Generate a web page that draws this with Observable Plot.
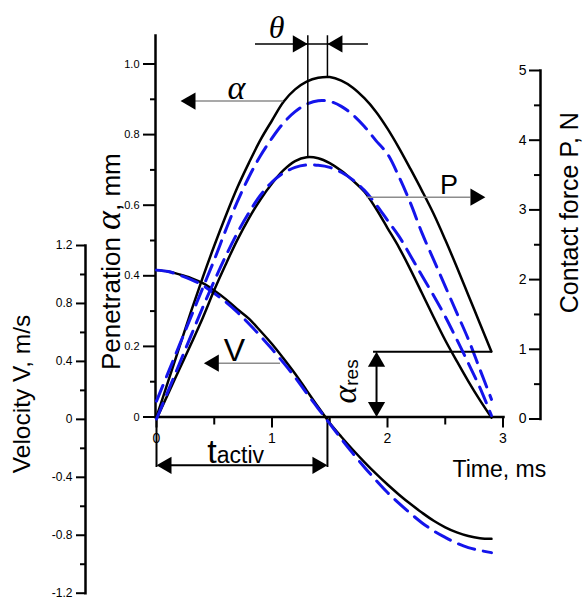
<!DOCTYPE html>
<html><head><meta charset="utf-8">
<script src="https://cdn.jsdelivr.net/npm/d3@7"></script>
<script src="https://cdn.jsdelivr.net/npm/@observablehq/plot@0.6"></script>
<style>
html,body{margin:0;padding:0;background:#fff;}
#chart{position:relative;width:587px;height:597px;}
#chart svg{position:absolute;left:0;top:0;overflow:visible;background:transparent;}
</style></head><body><div id="chart"></div>
<script>
// ---- data ----
const time = [0,0.1,0.2,0.3,0.4,0.5,0.6,0.7,0.8,0.9,1.0,1.1,1.2,1.3,1.4,1.5,1.6,1.7,1.8,1.9,2.0,2.1,2.2,2.3,2.4,2.5,2.6,2.7,2.8,2.9];
// penetration alpha, mm
const alphaBlack = [0,0.10,0.20,0.30,0.395,0.485,0.57,0.65,0.72,0.785,0.84,0.893,0.928,0.950,0.961,0.963,0.953,0.933,0.903,0.865,0.817,0.762,0.702,0.64,0.575,0.502,0.425,0.345,0.265,0.185];
const alphaBlue  = [0.045,0.125,0.205,0.285,0.365,0.445,0.53,0.61,0.68,0.74,0.79,0.833,0.865,0.886,0.896,0.894,0.88,0.856,0.823,0.783,0.745,0.68,0.605,0.52,0.445,0.37,0.295,0.22,0.135,0.05];
// contact force P, N
const forceBlack = [0,0.36,0.72,1.08,1.45,1.85,2.22,2.57,2.88,3.15,3.38,3.57,3.70,3.755,3.74,3.67,3.56,3.42,3.26,3.02,2.74,2.46,2.14,1.80,1.46,1.13,0.83,0.54,0.27,0.02];
const forceBlue  = [0,0.40,0.80,1.20,1.60,1.98,2.34,2.67,2.96,3.21,3.40,3.53,3.61,3.645,3.64,3.61,3.54,3.43,3.28,3.08,2.85,2.62,2.34,2.05,1.77,1.47,1.14,0.80,0.45,0.05];
// velocity V, m/s
const velBlack = [1.03,1.02,1.00,0.975,0.94,0.89,0.83,0.76,0.695,0.61,0.52,0.42,0.315,0.20,0.085,-0.025,-0.12,-0.21,-0.295,-0.375,-0.45,-0.52,-0.585,-0.645,-0.70,-0.745,-0.78,-0.805,-0.82,-0.825];
const velBlue  = [1.03,1.02,0.995,0.965,0.925,0.87,0.81,0.74,0.66,0.575,0.485,0.39,0.29,0.18,0.075,-0.03,-0.135,-0.235,-0.33,-0.42,-0.505,-0.58,-0.65,-0.715,-0.77,-0.815,-0.855,-0.885,-0.905,-0.92];

// tick values
const timeTicks = [0,1,2,3], timeMinor = [0.5,1.5,2.5];
const penTicks = [0,0.2,0.4,0.6,0.8,1.0], penMinor = [0.1,0.3,0.5,0.7,0.9];
const velTicks = [-1.2,-0.8,-0.4,0,0.4,0.8,1.2], velMinor = [-1.0,-0.6,-0.2,0.2,0.6,1.0];
const forceTicks = [0,1,2,3,4,5], forceMinor = [0.5,1.5,2.5,3.5,4.5];

// key times
const tActiv = 1.48;   // alpha maximum / V = 0
const tPmax = 1.31;    // force maximum
const alphaRes = alphaBlack[alphaBlack.length - 1];

// ---- layout ----
const W = 587, H = 597;
const X = {domain: [0, 3], range: [156, 502.5]};
const FONT = "'Liberation Sans', Arial, sans-serif";
const SERIF = "'Liberation Serif', 'Times New Roman', serif";
const BLUE = "#1414eb";
const blackLine = {stroke: "black", strokeWidth: 2.5, curve: "catmull-rom"};
const blueLine = {stroke: BLUE, strokeWidth: 3, strokeDasharray: "17,9", curve: "catmull-rom"};
const grey = "#8c8c8c";
const head = (pts, rotate, dx, dy) => Plot.dot(pts, {x: "t", y: "y", symbol: "triangle", fill: "black", stroke: "none", r: 6.4, rotate, dx, dy});
const fmt1 = d => d === 0 ? "0" : d.toFixed(1);
const fmtInt = d => String(d);

// Plot A: penetration (inner left axis) + time axis + annotations
const plotA = Plot.plot({
  width: W, height: H,
  marginLeft: 155, marginRight: 84, marginTop: 35, marginBottom: 180.5,
  style: {fontFamily: FONT, background: "transparent", overflow: "visible"},
  x: X,
  y: {domain: [0, 1], range: [416.5, 63.5]},
  marks: [
    Plot.axisY(penTicks, {anchor: "left", tickSize: 12, tickPadding: 4, fontSize: 11, strokeWidth: 2, tickFormat: fmt1, label: null}),
    Plot.axisY(penMinor, {anchor: "left", tickSize: 5, strokeWidth: 2, tickFormat: () => "", label: null}),
    Plot.axisX(timeTicks, {anchor: "bottom", tickSize: 11, tickPadding: 5, fontSize: 14, strokeWidth: 2, tickFormat: fmtInt, label: null}),
    Plot.axisX(timeMinor, {anchor: "bottom", tickSize: 8, strokeWidth: 2, tickFormat: () => "", label: null}),
    Plot.frame({anchor: "left", strokeWidth: 2.5}),
    Plot.frame({anchor: "bottom", strokeWidth: 2.5}),
    Plot.line(time, {x: time, y: alphaBlack, ...blackLine}),
    Plot.line(time, {x: time, y: alphaBlue, ...blueLine}),
    // theta bracket
    Plot.ruleX([tActiv], {y1: d3.max(alphaBlack), y2: 1.08, strokeWidth: 1.5}),
    Plot.ruleY([1.057], {x1: 0.857, x2: 1.835, strokeWidth: 1.5}),
    head([{t: tPmax, y: 1.057}], 90, -10, 0),
    head([{t: tActiv, y: 1.057}], -90, 10, 0),
    Plot.text([{t: 1.04, y: 1.075, s: "θ"}], {x: "t", y: "y", text: "s", fontFamily: SERIF, fontStyle: "italic", fontSize: 32, lineAnchor: "bottom"}),
    // alpha arrow
    Plot.ruleY([0.895], {x1: 0.338, x2: 1.10, stroke: grey, strokeWidth: 1.5}),
    head([{t: 0.208, y: 0.895}], -90, 10, 0),
    Plot.text([{t: 0.693, y: 0.902, s: "α"}], {x: "t", y: "y", text: "s", fontFamily: SERIF, fontStyle: "italic", fontSize: 34, lineAnchor: "bottom"}),
    // t activ bracket
    Plot.ruleX([0, tActiv], {y1: 0, y2: -0.143, strokeWidth: 2}),
    Plot.ruleY([-0.137], {x1: 0.08, x2: tActiv - 0.08, strokeWidth: 2}),
    head([{t: 0, y: -0.137}], -90, 10, 0),
    head([{t: tActiv, y: -0.137}], 90, -10, 0),
    Plot.text([{t: 0.44, y: -0.129, s: "tactiv"}], {x: "t", y: "y", text: "s", fontSize: 23, textAnchor: "start", lineAnchor: "bottom"}),
    // alpha residual bracket
    Plot.ruleY([alphaRes], {x1: 1.879, x2: 2.9, strokeWidth: 2}),
    Plot.ruleX([1.905], {y1: 0.02, y2: alphaRes - 0.02, strokeWidth: 2}),
    head([{t: 1.905, y: alphaRes}], 0, 0, 10),
    head([{t: 1.905, y: 0}], 180, 0, -10),
    Plot.text([{t: 1.723, y: 0.038, s: "αres"}], {x: "t", y: "y", text: "s", fontSize: 20, rotate: -90, textAnchor: "start", lineAnchor: "bottom"}),
    // axis titles
    Plot.text([{t: 2.563, y: -0.171, s: "Time, ms"}], {x: "t", y: "y", text: "s", fontSize: 23, textAnchor: "start", lineAnchor: "bottom"}),
    Plot.text([{t: -0.39, y: 0.44, s: "Penetration α, mm"}], {x: "t", y: "y", text: "s", fontSize: 26, rotate: -90, lineAnchor: "middle"})
  ]
});

// Plot B: velocity (outer left axis)
const plotB = Plot.plot({
  width: W, height: H,
  marginLeft: 85, marginRight: 84, marginTop: 245, marginBottom: 4.3,
  style: {fontFamily: FONT, background: "transparent", overflow: "visible"},
  x: {...X, axis: null},
  y: {domain: [-1.2, 1.2], range: [592.7, 245]},
  marks: [
    Plot.axisY(velTicks, {anchor: "left", tickSize: 9, tickPadding: 4, fontSize: 12, strokeWidth: 2, tickFormat: fmt1, label: null}),
    Plot.axisY(velMinor, {anchor: "left", tickSize: 5, strokeWidth: 2, tickFormat: () => "", label: null}),
    Plot.frame({anchor: "left", strokeWidth: 2.5}),
    Plot.line(time, {x: time, y: velBlack, ...blackLine}),
    Plot.line(time, {x: time, y: velBlue, ...blueLine}),
    Plot.ruleY([0.3875], {x1: 0.537, x2: 1.074, stroke: grey, strokeWidth: 1.5}),
    head([{t: 0.41, y: 0.3875}], -90, 10, 0),
    Plot.text([{t: 0.675, y: 0.406, s: "V"}], {x: "t", y: "y", text: "s", fontSize: 32, lineAnchor: "bottom"}),
    Plot.text([{t: -1.16, y: 0.175, s: "Velocity V, m/s"}], {x: "t", y: "y", text: "s", fontSize: 24.5, rotate: -90, lineAnchor: "middle"})
  ]
});

// Plot C: contact force (right axis)
const plotC = Plot.plot({
  width: W, height: H,
  marginLeft: 540, marginRight: 0, marginTop: 70, marginBottom: 178.5,
  style: {fontFamily: FONT, background: "transparent", overflow: "visible"},
  x: {...X, axis: null},
  y: {domain: [0, 5], range: [418.5, 70]},
  marks: [
    Plot.axisY(forceTicks, {anchor: "left", tickSize: 11, tickPadding: 3, fontSize: 14, strokeWidth: 2, tickFormat: fmtInt, label: null}),
    Plot.axisY(forceMinor, {anchor: "left", tickSize: 6, strokeWidth: 2, tickFormat: () => "", label: null}),
    Plot.frame({anchor: "left", strokeWidth: 2.5}),
    Plot.line(time, {x: time, y: forceBlack, ...blackLine}),
    Plot.line(time, {x: time, y: forceBlue, ...blueLine}),
    Plot.ruleX([tPmax], {y1: d3.max(forceBlack), y2: 5.5, strokeWidth: 1.5}),
    Plot.ruleY([3.182], {x1: 1.824, x2: 2.72, stroke: grey, strokeWidth: 1.5}),
    head([{t: 2.848, y: 3.182}], 90, -10, 0),
    Plot.text([{t: 2.532, y: 3.235, s: "P"}], {x: "t", y: "y", text: "s", fontSize: 27, lineAnchor: "bottom"}),
    Plot.text([{t: 3.584, y: 2.96, s: "Contact force P, N"}], {x: "t", y: "y", text: "s", fontSize: 25, rotate: -90, lineAnchor: "middle"})
  ]
});

const chart = document.getElementById("chart");
chart.append(plotA, plotB, plotC);

// rich text (greek letters in italic serif, subscripts)
function rich(svg, content, parts) {
  d3.select(svg).selectAll("text").filter(function () { return this.textContent === content; }).each(function () {
    const t = d3.select(this);
    t.text(null);
    for (const p of parts) {
      const s = t.append("tspan").text(p.s);
      if (p.serif) s.attr("font-family", SERIF).attr("font-style", "italic");
      if (p.size) s.attr("font-size", p.size);
      if (p.dy) s.attr("dy", p.dy);
    }
  });
}
rich(plotA, "Penetration α, mm", [{s: "Penetration "}, {s: "α", serif: true, size: 36}, {s: ", mm"}]);
rich(plotA, "tactiv", [{s: "t", size: 34}, {s: "activ", size: 23}]);
rich(plotA, "αres", [{s: "α", serif: true, size: 34}, {s: "res", size: 19, dy: 2}]);
</script></body></html>
